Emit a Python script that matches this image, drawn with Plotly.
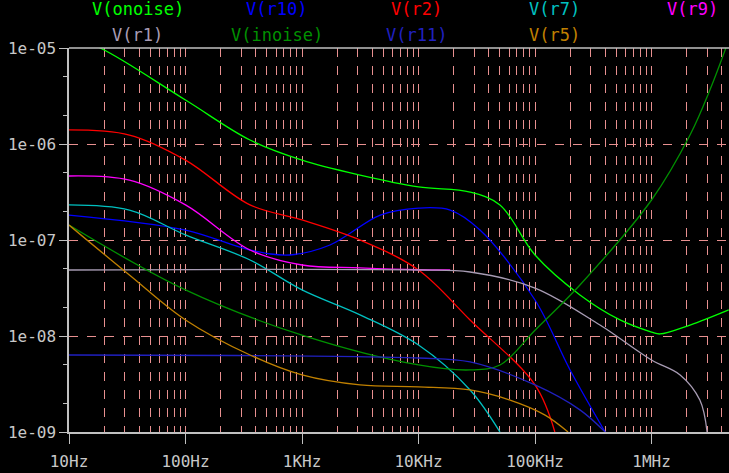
import plotly.graph_objects as go

# noise densities (V/sqrt(Hz))
f_onoise = [10, 18.5, 100, 358, 1000, 3150, 10000, 27700, 50000, 1e5, 243000, 537000, 1e6, 1.18e6, 2.14e6, 4.6e6]
v_onoise = [1.3e-5, 1e-5, 2.87e-6, 1.1e-6, 6.8e-7, 4.75e-7, 3.57e-7, 3.16e-7, 2.32e-7, 6.98e-8, 2.68e-8, 1.47e-8, 1.1e-8, 1.05e-8, 1.3e-8, 1.87e-8]

f_inoise = [10, 100, 1000, 10000, 27700, 50000, 1e5, 243000, 1e6, 2.14e6, 3.17e6, 4.6e6]
v_inoise = [1.43e-7, 3.02e-8, 1.02e-8, 4.99e-9, 4.43e-9, 4.99e-9, 1.15e-8, 3.4e-8, 2.61e-7, 1.24e-6, 3.65e-6, 1.21e-5]

f_r10 = [10, 100, 358, 790, 1740, 4700, 10000, 18700, 33700, 1e5, 200000, 400000]
v_r10 = [1.82e-7, 1.27e-7, 7.87e-8, 6.98e-8, 8.87e-8, 1.82e-7, 2.15e-7, 2.05e-7, 1.27e-7, 2.37e-8, 4.43e-9, 1e-9]

f_r2 = [10, 33, 100, 358, 1000, 3150, 10000, 27700, 1e5, 148000]
v_r2 = [1.4e-6, 1.24e-6, 6.8e-7, 2.32e-7, 1.62e-7, 1e-7, 4.87e-8, 1.47e-8, 3.09e-9, 1e-9]

f_r7 = [10, 33, 100, 358, 1000, 3150, 10000, 27700, 50000]
v_r7 = [2.32e-7, 2.05e-7, 1.13e-7, 6.19e-8, 3.02e-8, 1.66e-8, 8.05e-9, 2.74e-9, 1e-9]

f_r9 = [10, 33, 100, 358, 1000, 3150, 10000, 18700]
v_r9 = [4.64e-7, 4.2e-7, 2.32e-7, 7.87e-8, 5.49e-8, 5.13e-8, 4.9e-8, 4.87e-8]

f_r1 = [10, 10000, 27700, 1e5, 361000, 1e6, 1.76e6, 2.6e6, 3e6]
v_r1 = [4.87e-8, 4.87e-8, 4.64e-8, 3.16e-8, 1.3e-8, 5.62e-9, 3.93e-9, 2.15e-9, 1e-9]

f_r11 = [10, 10000, 27700, 1e5, 243000, 400000]
v_r11 = [6.34e-9, 5.9e-9, 5.37e-9, 3.09e-9, 1.7e-9, 1e-9]

f_r5 = [10, 33, 100, 358, 1000, 3150, 10000, 27700, 61000, 122000, 192000]
v_r5 = [1.43e-7, 4.32e-8, 1.47e-8, 6.34e-9, 3.93e-9, 3.09e-9, 2.95e-9, 2.74e-9, 2.15e-9, 1.5e-9, 1e-9]

series = [
    ("V(onoise)", f_onoise, v_onoise, "#00ff00"),
    ("V(r10)", f_r10, v_r10, "#0000ff"),
    ("V(r2)", f_r2, v_r2, "#ff0000"),
    ("V(r7)", f_r7, v_r7, "#00c0c0"),
    ("V(r9)", f_r9, v_r9, "#ff00ff"),
    ("V(r1)", f_r1, v_r1, "#a89cb4"),
    ("V(inoise)", f_inoise, v_inoise, "#009000"),
    ("V(r11)", f_r11, v_r11, "#2020c0"),
    ("V(r5)", f_r5, v_r5, "#c08000"),
]

xticks = [10, 100, 1e3, 1e4, 1e5, 1e6]
xlabels = ["10Hz", "100Hz", "1KHz", "10KHz", "100KHz", "1MHz"]
yticks = [1e-9, 1e-8, 1e-7, 1e-6, 1e-5]
ylabels = ["1e-09", "1e-08", "1e-07", "1e-06", "1e-05"]

fig = go.Figure()
for name, f, v, c in series:
    fig.add_trace(go.Scatter(x=f, y=v, mode="lines", line=dict(color=c, width=1.3, shape="spline", smoothing=1.0),
                             name=name, showlegend=False))

# legend drawn like LTspice: two rows of colored labels
lx = [0.1045, 0.315, 0.526, 0.736, 0.945]
for i, (name, f, v, c) in enumerate(series):
    row = 0 if i < 5 else 1
    fig.add_annotation(text=name, x=lx[i % 5], y=1.082 if row == 0 else 1.012, xref="paper", yref="paper",
                       showarrow=False, font=dict(color=c, size=17, family="DejaVu Sans Mono"),
                       xanchor="center", yanchor="bottom", yshift=-4)

grid = "#e89090"
fig.update_layout(
    width=729, height=473,
    paper_bgcolor="black", plot_bgcolor="black",
    margin=dict(l=69, r=0, t=48, b=41, autoexpand=False),
    font=dict(family="DejaVu Sans Mono", size=16, color="#c8c8c8"),
    xaxis=dict(type="log", range=[1, 6.665], tickvals=xticks, ticktext=xlabels, automargin=False,
               showgrid=True, gridcolor=grid, griddash="dash", gridwidth=1,
               showline=True, linecolor="#c0c0c0", linewidth=1.5, ticks="outside", ticklen=10,
               tickcolor="#c0c0c0", zeroline=False, ticklabelstandoff=4,
               minor=dict(dtick="D1", showgrid=True, gridcolor=grid, griddash="dash", gridwidth=1, ticks="")),
    yaxis=dict(type="log", range=[-9, -5], tickvals=yticks, ticktext=ylabels, automargin=False,
               showgrid=True, gridcolor=grid, griddash="dash", gridwidth=1,
               showline=True, linecolor="#c0c0c0", linewidth=1.5, ticks="outside", ticklen=8,
               tickcolor="#c0c0c0", zeroline=False,
               minor=dict(dtick="D2", showgrid=False, ticks="outside", ticklen=4, tickcolor="#c0c0c0")),
)
fig.add_shape(type="line", xref="paper", yref="paper", x0=0, x1=1, y0=1, y1=1,
              line=dict(color="#c0c0c0", width=1.5))

fig.write_html("out.html", config={"displayModeBar": False},
               post_script="document.body.style.margin='0';document.body.style.background='black';")
